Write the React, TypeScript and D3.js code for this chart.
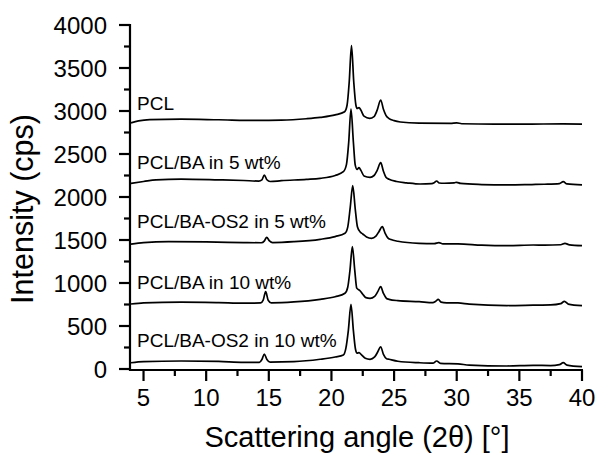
import React from "react";
import * as d3 from "d3";

const xTicks = [5, 10, 15, 20, 25, 30, 35, 40];
const xMinorTicks = [7.5, 12.5, 17.5, 22.5, 27.5, 32.5, 37.5];
const yTicks = [0, 500, 1000, 1500, 2000, 2500, 3000, 3500, 4000];
const yMinorTicks = [250, 750, 1250, 1750, 2250, 2750, 3250, 3750];

const seriesNames = [
  "PCL",
  "PCL/BA in 5 wt%",
  "PCL/BA-OS2 in 5 wt%",
  "PCL/BA in 10 wt%",
  "PCL/BA-OS2 in 10 wt%",
];
const labelIntensity = [3010, 2330, 1640, 930, 255];

const pcl: [number, number][] = [
  [4, 2862], [4.6, 2885], [5.5, 2900], [8, 2905], [11, 2898], [14, 2890], [16, 2893],
  [18, 2910], [19.1, 2926], [20.3, 2955], [21.05, 2992], [21.25, 3070], [21.42, 3340],
  [21.6, 3760], [21.78, 3340], [21.95, 3070], [22.05, 3030], [22.2, 3040], [22.35, 3010],
  [22.6, 2940], [23.05, 2915], [23.4, 2935], [23.65, 3010], [23.93, 3128], [24.15, 3020],
  [24.35, 2950], [24.6, 2912], [25.0, 2888], [25.5, 2872], [27, 2858], [29.5, 2855],
  [30, 2862], [30.4, 2852], [33, 2848], [36, 2848], [38.5, 2850], [40, 2848],
];
const pclBa5: [number, number][] = [
  [4, 2159], [5, 2180], [6, 2200], [8, 2209], [11, 2200], [13, 2192], [14.2, 2185],
  [14.45, 2200], [14.64, 2256], [14.85, 2200], [15.1, 2180], [16, 2190], [18, 2205],
  [19.1, 2217], [20.3, 2250], [20.95, 2294], [21.2, 2380], [21.38, 2640], [21.56, 3023],
  [21.75, 2640], [21.9, 2370], [22.05, 2320], [22.2, 2341], [22.35, 2310], [22.6, 2245],
  [23.08, 2229], [23.4, 2250], [23.65, 2310], [23.93, 2399], [24.15, 2300], [24.35, 2230],
  [24.6, 2206], [25.2, 2180], [26, 2165], [27.07, 2151], [28.0, 2155], [28.2, 2165],
  [28.4, 2186], [28.6, 2163], [29, 2160], [29.8, 2165], [30.0, 2171], [30.3, 2158],
  [32, 2145], [34, 2140], [36, 2145], [37, 2148], [38.2, 2155], [38.5, 2178], [38.8, 2152],
  [40, 2140],
];
const pclBaOs5: [number, number][] = [
  [4, 1453], [5, 1470], [7, 1480], [10, 1478], [13, 1470], [14.4, 1468], [14.65, 1490],
  [14.83, 1531], [15.05, 1490], [15.3, 1470], [17, 1480], [19.1, 1508], [20.3, 1540],
  [21.08, 1578], [21.3, 1650], [21.5, 1880], [21.7, 2132], [21.9, 1860], [22.08, 1650],
  [22.28, 1597], [22.5, 1570], [22.8, 1535], [23.2, 1520], [23.55, 1545], [23.8, 1600],
  [24.06, 1655], [24.28, 1580], [24.5, 1525], [24.75, 1505], [25.3, 1485], [27, 1461],
  [28.2, 1458], [28.58, 1469], [28.9, 1455], [30.1, 1455], [32, 1440], [34, 1434],
  [36.1, 1442], [37, 1440], [38.3, 1445], [38.64, 1461], [39, 1443], [40, 1434],
];
const pclBa10: [number, number][] = [
  [4, 756], [5, 770], [8, 778], [11, 772], [13, 765], [14.35, 768], [14.55, 800],
  [14.75, 899], [14.95, 800], [15.2, 770], [17, 780], [19.1, 810], [20.3, 840],
  [21.08, 880], [21.3, 950], [21.48, 1150], [21.67, 1422], [21.86, 1150], [22.02, 940],
  [22.28, 910], [22.5, 870], [22.75, 830], [23.08, 822], [23.45, 845], [23.7, 900],
  [23.93, 957], [24.15, 880], [24.4, 820], [24.6, 810], [25.3, 795], [27, 783],
  [28.1, 772], [28.3, 785], [28.53, 810], [28.75, 778], [29.2, 770], [30.1, 768],
  [31, 755], [34, 738], [36.1, 742], [37.5, 745], [38.3, 760], [38.6, 787], [38.9, 755],
  [40, 736],
];
const pclBaOs10: [number, number][] = [
  [4, 73], [5, 85], [8, 93], [11, 88], [13, 78], [14.25, 78], [14.45, 110], [14.64, 174],
  [14.85, 110], [15.1, 80], [17, 85], [19.1, 113], [20.3, 140], [20.95, 163], [21.15, 240],
  [21.35, 450], [21.56, 752], [21.75, 450], [21.92, 230], [22.05, 185], [22.2, 190],
  [22.4, 165], [22.7, 125], [23.08, 113], [23.45, 140], [23.7, 200], [23.93, 259],
  [24.15, 170], [24.4, 120], [24.6, 113], [25.3, 90], [27, 73], [28.1, 68], [28.4, 93],
  [28.7, 65], [30.1, 60], [31, 45], [34, 35], [36.1, 42], [37.5, 40], [38.2, 50],
  [38.5, 73], [38.8, 45], [40, 27],
];
const allSeries = [pcl, pclBa5, pclBaOs5, pclBa10, pclBaOs10];

export default function App() {
  const W = 600;
  const H = 459;
  const x = d3.scaleLinear().domain([4, 40]).range([131, 582]);
  const y = d3.scaleLinear().domain([0, 4000]).range([369, 25]);
  const line = d3
    .line<[number, number]>()
    .x((d) => x(d[0]))
    .y((d) => y(d[1]))
    .curve(d3.curveMonotoneX);
  const axisX = 130;
  const axisY = 370;
  const font = "Arial, 'Liberation Sans', sans-serif";
  return (
    <svg
      width={W}
      height={H}
      style={{ position: "absolute", left: 0, top: 0, background: "#fff" }}
      fontFamily={font}
    >
      <rect x={0} y={0} width={W} height={H} fill="#fff" />
      {allSeries.map((s, i) => (
        <path key={i} d={line(s) || ""} fill="none" stroke="#000" strokeWidth={1.7} strokeLinejoin="round" />
      ))}
      {seriesNames.map((n, i) => (
        <text key={n} x={137} y={y(labelIntensity[i])} fontSize={19} fill="#000">
          {n}
        </text>
      ))}
      {/* axes */}
      <line x1={axisX} x2={axisX} y1={y(4000) - 1} y2={axisY + 1} stroke="#000" strokeWidth={2.2} />
      <line x1={axisX - 1} x2={x(40) + 1} y1={axisY} y2={axisY} stroke="#000" strokeWidth={2.2} />
      {yTicks.map((t) => (
        <g key={t}>
          <line x1={axisX - 11} x2={axisX} y1={y(t)} y2={y(t)} stroke="#000" strokeWidth={2.2} />
          <text x={107} y={y(t)} dy="0.36em" textAnchor="end" fontSize={24} fill="#000">
            {t}
          </text>
        </g>
      ))}
      {yMinorTicks.map((t) => (
        <line key={t} x1={axisX - 6} x2={axisX} y1={y(t)} y2={y(t)} stroke="#000" strokeWidth={2.2} />
      ))}
      {xTicks.map((t) => (
        <g key={t}>
          <line x1={x(t)} x2={x(t)} y1={axisY} y2={axisY + 11} stroke="#000" strokeWidth={2.2} />
          <text x={x(t)} y={406} textAnchor="middle" fontSize={24} fill="#000">
            {t}
          </text>
        </g>
      ))}
      {xMinorTicks.map((t) => (
        <line key={t} x1={x(t)} x2={x(t)} y1={axisY} y2={axisY + 6} stroke="#000" strokeWidth={2.2} />
      ))}
      <text x={357} y={447} textAnchor="middle" fontSize={29} fill="#000">
        Scattering angle (2θ) [°]
      </text>
      <text
        transform={`translate(33, 209) rotate(-90)`}
        textAnchor="middle"
        fontSize={30.5}
        fill="#000"
      >
        Intensity (cps)
      </text>
    </svg>
  );
}
